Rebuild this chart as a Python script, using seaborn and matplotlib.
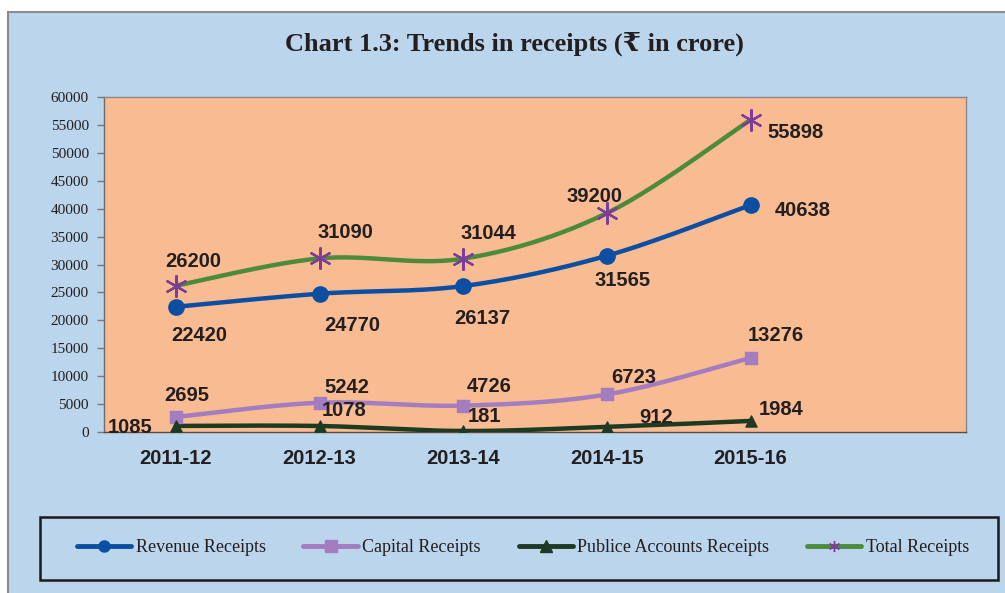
import numpy as np
import pandas as pd
import matplotlib
matplotlib.use("Agg")
import matplotlib.pyplot as plt
from matplotlib.patches import Rectangle
from matplotlib.lines import Line2D
import seaborn as sns

years = ['2011-12', '2012-13', '2013-14', '2014-15', '2015-16']
revenue = [22420, 24770, 26137, 31565, 40638]
capital = [2695, 5242, 4726, 6723, 13276]
public = [1085, 1078, 181, 912, 1984]
total = [26200, 31090, 31044, 39200, 55898]
series_names = ['Revenue Receipts', 'Capital Receipts', 'Publice Accounts Receipts', 'Total Receipts']
title = 'Chart 1.3: Trends in receipts (\u20b9 in crore)'

sns.set_theme(style='white')
plt.rcParams['font.family'] = ['Liberation Sans', 'DejaVu Sans']

BG = '#BAD5EC'
PLOT_BG = '#F8BB92'
C_REV = '#0B4EA2'
C_CAP = '#A47CC0'
C_PUB = '#1E3A22'
C_TOT = '#4B8B3B'
C_STAR = '#7D3C98'
TXT = '#231F20'

W, H = 1005, 593
fig = plt.figure(figsize=(W / 100, H / 100), dpi=100, facecolor='white')
# outer chart frame
fig.patches.append(Rectangle((8 / W, -0.05), 1.1, 1 - 12 / H + 0.05, transform=fig.transFigure,
                             facecolor=BG, edgecolor='#8C8C8C', lw=1.5, zorder=-5))

ax = fig.add_axes([104 / W, 1 - 432 / H, (966 - 104) / W, (432 - 97) / H])
ax.set_facecolor(PLOT_BG)
ax.set_zorder(1)


def smooth(y, n=40):
    """Excel-style smoothed line (Catmull-Rom / Bezier) through the data points."""
    x = np.arange(len(y), dtype=float)
    y = np.asarray(y, dtype=float)
    px = np.concatenate([[x[0]], x, [x[-1]]])
    py = np.concatenate([[y[0]], y, [y[-1]]])
    xs, ys = [], []
    t = np.linspace(0, 1, n)
    for i in range(1, len(px) - 2):
        p0 = np.array([px[i], py[i]])
        p3 = np.array([px[i + 1], py[i + 1]])
        p1 = p0 + (np.array([px[i + 1], py[i + 1]]) - np.array([px[i - 1], py[i - 1]])) / 6
        p2 = p3 - (np.array([px[i + 2], py[i + 2]]) - np.array([px[i], py[i]])) / 6
        b = ((1 - t) ** 3)[:, None] * p0 + (3 * (1 - t) ** 2 * t)[:, None] * p1 + \
            (3 * (1 - t) * t ** 2)[:, None] * p2 + (t ** 3)[:, None] * p3
        xs.append(b[:, 0]); ys.append(b[:, 1])
    return np.concatenate(xs), np.concatenate(ys)


specs = [
    (revenue, C_REV, 'o', 11, C_REV, C_REV, 1.0),
    (capital, C_CAP, 's', 8, C_CAP, C_CAP, 1.0),
    (public, C_PUB, '^', 8, C_PUB, C_PUB, 1.0),
    (total, C_TOT, (6, 2, 0), 15, C_STAR, C_STAR, 1.6),
]
xpos = np.arange(len(years))
for (vals, col, mk, ms, mfc, mec, mew), name in zip(specs, series_names):
    sx, sy = smooth(vals)
    df = pd.DataFrame({'x': sx, 'y': sy})
    sns.lineplot(data=df, x='x', y='y', sort=False, estimator=None, color=col, lw=3.2, ax=ax, zorder=3)
    dfp = pd.DataFrame({'x': xpos, 'y': vals})
    sns.scatterplot(data=dfp, x='x', y='y', marker=mk, s=ms ** 2, color=mfc, edgecolor=mec,
                    linewidth=mew, ax=ax, zorder=4)

# data labels: pixel offsets relative to points
offsets = {
    'rev': [(23, -26), (33, -29), (19, -29), (16, -22), (52, -2)],
    'tot': [(17, 27), (26, 29), (25, 28), (-12, 20), (45, -10)],
    'cap': [(11, 24), (27, 18), (26, 22), (27, 20), (25, 25)],
    'pub': [(-46, 1), (25, 18), (21, 17), (49, 12), (31, 14)],
}
for key, vals in [('rev', revenue), ('tot', total), ('cap', capital), ('pub', public)]:
    for i, v in enumerate(vals):
        dx, dy = offsets[key][i]
        ax.annotate(f'{v}', (i, v), xytext=(dx, dy - 3), textcoords='offset pixels',
                    ha='center', va='center', fontsize=14.5, fontweight='bold', color=TXT, zorder=5,
                    annotation_clip=False)

ax.set_xlim(-0.5, 5.5)
ax.set_ylim(0, 60000)
ax.set_yticks(np.arange(0, 60001, 5000))
ax.set_yticklabels([str(v) for v in range(0, 60001, 5000)], family=['Liberation Serif', 'DejaVu Serif'],
                   fontsize=11, color=TXT)
ax.set_xticks(xpos)
ax.set_xticklabels(years, fontsize=14.5, fontweight='bold', color=TXT)
ax.set_xticks(np.arange(-0.5, 5.6, 1), minor=True)
ax.tick_params(axis='x', which='major', length=0, pad=12)
ax.tick_params(axis='x', which='minor', length=6, width=1, color='#7A7A7A', direction='out')
ax.tick_params(axis='y', length=5, width=1, color='#7A7A7A', direction='out', pad=6, left=True)
ax.set_xlabel('')
ax.set_ylabel('')
for s in ax.spines.values():
    s.set_color('#8A8A8A')
    s.set_linewidth(1)
ax.spines['left'].set_color('#6E6E6E')
ax.spines['bottom'].set_color('#5A4A40')

fig.text(514 / W, 1 - 44 / H, title, ha='center', va='center', fontsize=19, fontweight='bold',
         family=['Liberation Serif', 'DejaVu Serif', 'DejaVu Sans'], color=TXT)

# legend box
fig.patches.append(Rectangle((40 / W, 1 - 580 / H), (998 - 40) / W, (580 - 517) / H,
                             transform=fig.transFigure, facecolor='none', edgecolor='#1A1A1A', lw=1.8, zorder=2))
handles = []
for (vals, col, mk, ms, mfc, mec, mew), name in zip(specs, series_names):
    handles.append(Line2D([], [], color=col, lw=3.5, marker=mk, markersize=8, markerfacecolor=mfc,
                          markeredgecolor=mec, markeredgewidth=1.0, solid_capstyle='round'))
leg = fig.legend(handles, series_names, loc='center', bbox_to_anchor=(523 / W, 1 - 548 / H), ncol=4,
                 frameon=False, handlelength=3.0, handletextpad=0.25, columnspacing=2.1,
                 prop={'family': ['Liberation Serif', 'DejaVu Serif'], 'size': 13})
for t in leg.get_texts():
    t.set_color(TXT)

fig.savefig('out.png', dpi=100, facecolor=fig.get_facecolor())
